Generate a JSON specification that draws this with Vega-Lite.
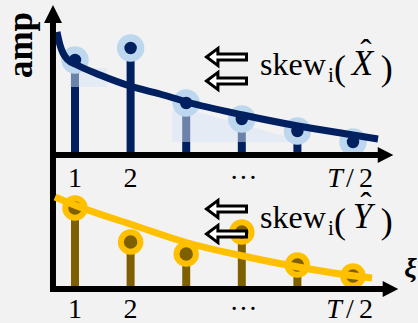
{
  "$schema": "https://vega.github.io/schema/vega-lite/v6.json",
  "width": 418,
  "height": 323,
  "autosize": {"type": "none"},
  "padding": 0,
  "background": "#f2f2f2",
  "config": {"view": {"stroke": null}, "axis": {"disable": true}},
  "datasets": {
    "topStems": [
      {"k": 1, "amp": 0.95}, {"k": 2, "amp": 1.07}, {"k": 3, "amp": 0.52},
      {"k": 4, "amp": 0.36}, {"k": 5, "amp": 0.24}, {"k": 6, "amp": 0.13}
    ],
    "topCurve": [
      {"k": 0.676, "amp": 1.23}, {"k": 0.73, "amp": 1.1}, {"k": 0.784, "amp": 1.02},
      {"k": 0.874, "amp": 0.95}, {"k": 1.036, "amp": 0.9}, {"k": 1.45, "amp": 0.8},
      {"k": 1.989, "amp": 0.69}, {"k": 2.529, "amp": 0.61}, {"k": 3.014, "amp": 0.53},
      {"k": 4.022, "amp": 0.4}, {"k": 5.011, "amp": 0.29}, {"k": 6.0, "amp": 0.2},
      {"k": 6.45, "amp": 0.16}
    ],
    "botStems": [
      {"k": 1, "amp": 0.81}, {"k": 2, "amp": 0.47}, {"k": 3, "amp": 0.35},
      {"k": 4, "amp": 0.57}, {"k": 5, "amp": 0.24}, {"k": 6, "amp": 0.13}
    ],
    "botCurve": [
      {"k": 0.64, "amp": 0.92}, {"k": 1.036, "amp": 0.83}, {"k": 2.043, "amp": 0.64},
      {"k": 3.032, "amp": 0.46}, {"k": 4.022, "amp": 0.33}, {"k": 5.011, "amp": 0.22},
      {"k": 6.036, "amp": 0.13}, {"k": 6.342, "amp": 0.11}
    ],
    "ticks": [
      {"k": 1, "label": "1"}, {"k": 2, "label": "2"}, {"k": 4.03, "label": "···"}
    ]
  },
  "layer": [
    {
      "layer": [
        {
          "data": {"name": "topStems"},
          "mark": {"type": "rule", "color": "#002060", "strokeWidth": 8},
          "encoding": {
            "x": {"field": "k", "type": "quantitative", "scale": {"domain": [-0.349, 7.169], "nice": false, "zero": false}},
            "y": {"field": "amp", "type": "quantitative", "scale": {"domain": [-1.68, 1.55], "nice": false, "zero": false}},
            "y2": {"datum": 0}
          }
        },
        {
          "data": {"values": [{}]},
          "mark": {"type": "rect", "color": "#d7e4f6", "opacity": 0.5},
          "encoding": {
            "x": {"datum": 0.91, "type": "quantitative"}, "x2": {"datum": 1.576},
            "y": {"datum": 0.87, "type": "quantitative"}, "y2": {"datum": 0.68}
          }
        },
        {
          "data": {"values": [{}]},
          "mark": {"type": "point", "shape": "M -1 -0.24 L -0.73 -0.24 L 1 0.24 L -1 0.24 Z", "filled": true, "color": "#d7e4f6", "opacity": 0.5, "size": 17689},
          "encoding": {"x": {"datum": 3.941, "type": "quantitative"}, "y": {"datum": 0.29, "type": "quantitative"}}
        },
        {
          "data": {"name": "topStems"},
          "mark": {"type": "point", "filled": true, "color": "#bdd7ee", "opacity": 1, "size": 755},
          "encoding": {"x": {"field": "k", "type": "quantitative"}, "y": {"field": "amp", "type": "quantitative"}}
        },
        {
          "data": {"name": "topStems"},
          "mark": {"type": "point", "filled": true, "color": "#002060", "opacity": 1, "size": 154},
          "encoding": {"x": {"field": "k", "type": "quantitative"}, "y": {"field": "amp", "type": "quantitative"}}
        },
        {
          "data": {"name": "topCurve"},
          "mark": {"type": "line", "color": "#002060", "strokeWidth": 7, "interpolate": "monotone", "strokeCap": "butt"},
          "encoding": {"x": {"field": "k", "type": "quantitative"}, "y": {"field": "amp", "type": "quantitative"}}
        },
        {
          "data": {"values": [{}]},
          "mark": {"type": "rule", "color": "black", "strokeWidth": 6},
          "encoding": {
            "x": {"datum": 0.604, "type": "quantitative"},
            "y": {"datum": 1.35, "type": "quantitative"}, "y2": {"datum": -1.37}
          }
        },
        {
          "data": {"values": [{}]},
          "mark": {"type": "rule", "color": "black", "strokeWidth": 6},
          "encoding": {
            "x": {"datum": 0.55, "type": "quantitative"}, "x2": {"datum": 6.6},
            "y": {"datum": 0, "type": "quantitative"}
          }
        },
        {
          "data": {"values": [{}]},
          "mark": {"type": "point", "shape": "M 0 -0.75 L 0.75 0.75 L -0.75 0.75 Z", "filled": true, "color": "black", "opacity": 1, "size": 576},
          "encoding": {"x": {"datum": 0.604, "type": "quantitative"}, "y": {"datum": 1.41, "type": "quantitative"}}
        },
        {
          "data": {"values": [{}]},
          "mark": {"type": "point", "shape": "M 0.65 0 L -0.65 -0.67 L -0.65 0.67 Z", "filled": true, "color": "black", "opacity": 1, "size": 576},
          "encoding": {"x": {"datum": 6.585, "type": "quantitative"}, "y": {"datum": 0, "type": "quantitative"}}
        },
        {
          "data": {"values": [{}]},
          "mark": {"type": "text", "text": "amp", "font": "Liberation Serif", "fontSize": 35, "fontWeight": "bold", "angle": 270, "align": "center", "baseline": "alphabetic", "color": "black"},
          "encoding": {"x": {"datum": 0.22, "type": "quantitative"}, "y": {"datum": 1.1, "type": "quantitative"}}
        },
        {
          "data": {"name": "ticks"},
          "mark": {"type": "text", "font": "Liberation Serif", "fontSize": 28, "align": "center", "baseline": "alphabetic", "color": "black"},
          "encoding": {"x": {"field": "k", "type": "quantitative"}, "y": {"datum": -0.32, "type": "quantitative"}, "text": {"field": "label"}}
        },
        {
          "data": {"values": [{}]},
          "mark": {"type": "text", "text": "T", "font": "Liberation Serif", "fontSize": 28, "fontStyle": "italic", "align": "center", "baseline": "alphabetic", "color": "black"},
          "encoding": {"x": {"datum": 5.676, "type": "quantitative"}, "y": {"datum": -0.32, "type": "quantitative"}}
        },
        {
          "data": {"values": [{}]},
          "mark": {"type": "text", "text": "/", "font": "Liberation Serif", "fontSize": 28, "align": "center", "baseline": "alphabetic", "color": "black"},
          "encoding": {"x": {"datum": 5.946, "type": "quantitative"}, "y": {"datum": -0.32, "type": "quantitative"}}
        },
        {
          "data": {"values": [{}]},
          "mark": {"type": "text", "text": "2", "font": "Liberation Serif", "fontSize": 28, "align": "center", "baseline": "alphabetic", "color": "black"},
          "encoding": {"x": {"datum": 6.234, "type": "quantitative"}, "y": {"datum": -0.32, "type": "quantitative"}}
        },
        {
          "data": {"values": [{}]},
          "mark": {"type": "point", "shape": "M -0.93 0 L -0.4 -0.4 L -0.4 -0.14 L 0.93 -0.14 L 0.93 0.14 L -0.4 0.14 L -0.4 0.4 Z", "filled": true, "fill": "white", "stroke": "black", "strokeWidth": 3, "strokeJoin": "miter", "opacity": 1, "size": 1849},
          "encoding": {"x": {"datum": 3.725, "type": "quantitative"}, "y": {"datum": 0.98, "type": "quantitative"}}
        },
        {
          "data": {"values": [{}]},
          "mark": {"type": "point", "shape": "M -0.93 0 L -0.4 -0.4 L -0.4 -0.14 L 0.93 -0.14 L 0.93 0.14 L -0.4 0.14 L -0.4 0.4 Z", "filled": true, "fill": "white", "stroke": "black", "strokeWidth": 3, "strokeJoin": "miter", "opacity": 1, "size": 1849},
          "encoding": {"x": {"datum": 3.725, "type": "quantitative"}, "y": {"datum": 0.74, "type": "quantitative"}}
        },
        {
          "data": {"values": [{}]},
          "mark": {"type": "text", "text": "skew", "font": "Liberation Serif", "fontSize": 32, "align": "left", "baseline": "alphabetic", "color": "black"},
          "encoding": {"x": {"datum": 4.327, "type": "quantitative"}, "y": {"datum": 0.8, "type": "quantitative"}}
        },
        {
          "data": {"values": [{}]},
          "mark": {"type": "text", "text": "i", "font": "Liberation Serif", "fontSize": 21, "align": "left", "baseline": "alphabetic", "color": "black"},
          "encoding": {"x": {"datum": 5.55, "type": "quantitative"}, "y": {"datum": 0.73, "type": "quantitative"}}
        },
        {
          "data": {"values": [{}]},
          "mark": {"type": "text", "text": "(", "font": "Liberation Serif", "fontSize": 36, "align": "left", "baseline": "alphabetic", "color": "black"},
          "encoding": {"x": {"datum": 5.658, "type": "quantitative"}, "y": {"datum": 0.755, "type": "quantitative"}}
        },
        {
          "data": {"values": [{}]},
          "mark": {"type": "text", "text": "X", "font": "Liberation Serif", "fontSize": 35, "fontStyle": "italic", "align": "center", "baseline": "alphabetic", "color": "black"},
          "encoding": {"x": {"datum": 6.17, "type": "quantitative"}, "y": {"datum": 0.8, "type": "quantitative"}}
        },
        {
          "data": {"values": [{}]},
          "mark": {"type": "text", "text": "ˆ", "font": "Liberation Serif", "fontSize": 34, "align": "center", "baseline": "alphabetic", "color": "black"},
          "encoding": {"x": {"datum": 6.23, "type": "quantitative"}, "y": {"datum": 0.92, "type": "quantitative"}}
        },
        {
          "data": {"values": [{}]},
          "mark": {"type": "text", "text": ")", "font": "Liberation Serif", "fontSize": 36, "align": "left", "baseline": "alphabetic", "color": "black"},
          "encoding": {"x": {"datum": 6.5, "type": "quantitative"}, "y": {"datum": 0.755, "type": "quantitative"}}
        }
      ]
    },
    {
      "layer": [
        {
          "data": {"name": "botStems"},
          "mark": {"type": "rule", "color": "#7f6000", "strokeWidth": 8},
          "encoding": {
            "x": {"field": "k", "type": "quantitative"},
            "y": {"field": "amp", "type": "quantitative", "scale": {"domain": [-0.34, 2.89], "nice": false, "zero": false}},
            "y2": {"datum": 0}
          }
        },
        {
          "data": {"name": "botStems"},
          "mark": {"type": "point", "filled": true, "color": "#7f6000", "stroke": "#ffc000", "strokeWidth": 6, "opacity": 1, "size": 380},
          "encoding": {"x": {"field": "k", "type": "quantitative"}, "y": {"field": "amp", "type": "quantitative"}}
        },
        {
          "data": {"name": "botCurve"},
          "mark": {"type": "line", "color": "#ffc000", "strokeWidth": 7, "interpolate": "monotone", "strokeCap": "butt"},
          "encoding": {"x": {"field": "k", "type": "quantitative"}, "y": {"field": "amp", "type": "quantitative"}}
        },
        {
          "data": {"values": [{}]},
          "mark": {"type": "rule", "color": "black", "strokeWidth": 6},
          "encoding": {
            "x": {"datum": 0.55, "type": "quantitative"}, "x2": {"datum": 6.683},
            "y": {"datum": 0, "type": "quantitative"}
          }
        },
        {
          "data": {"values": [{}]},
          "mark": {"type": "point", "shape": "M 0.65 0 L -0.65 -0.67 L -0.65 0.67 Z", "filled": true, "color": "black", "opacity": 1, "size": 576},
          "encoding": {"x": {"datum": 6.674, "type": "quantitative"}, "y": {"datum": 0, "type": "quantitative"}}
        },
        {
          "data": {"name": "ticks"},
          "mark": {"type": "text", "font": "Liberation Serif", "fontSize": 28, "align": "center", "baseline": "alphabetic", "color": "black"},
          "encoding": {"x": {"field": "k", "type": "quantitative"}, "y": {"datum": -0.29, "type": "quantitative"}, "text": {"field": "label"}}
        },
        {
          "data": {"values": [{}]},
          "mark": {"type": "text", "text": "T", "font": "Liberation Serif", "fontSize": 28, "fontStyle": "italic", "align": "center", "baseline": "alphabetic", "color": "black"},
          "encoding": {"x": {"datum": 5.658, "type": "quantitative"}, "y": {"datum": -0.29, "type": "quantitative"}}
        },
        {
          "data": {"values": [{}]},
          "mark": {"type": "text", "text": "/", "font": "Liberation Serif", "fontSize": 28, "align": "center", "baseline": "alphabetic", "color": "black"},
          "encoding": {"x": {"datum": 5.946, "type": "quantitative"}, "y": {"datum": -0.29, "type": "quantitative"}}
        },
        {
          "data": {"values": [{}]},
          "mark": {"type": "text", "text": "2", "font": "Liberation Serif", "fontSize": 28, "align": "center", "baseline": "alphabetic", "color": "black"},
          "encoding": {"x": {"datum": 6.234, "type": "quantitative"}, "y": {"datum": -0.29, "type": "quantitative"}}
        },
        {
          "data": {"values": [{}]},
          "mark": {"type": "text", "text": "ξ", "font": "Liberation Serif", "fontSize": 28, "fontStyle": "italic", "fontWeight": "bold", "align": "right", "baseline": "alphabetic", "color": "black"},
          "encoding": {"x": {"datum": 7.15, "type": "quantitative"}, "y": {"datum": 0.12, "type": "quantitative"}}
        },
        {
          "data": {"values": [{}]},
          "mark": {"type": "point", "shape": "M -0.93 0 L -0.4 -0.4 L -0.4 -0.14 L 0.93 -0.14 L 0.93 0.14 L -0.4 0.14 L -0.4 0.4 Z", "filled": true, "fill": "white", "stroke": "black", "strokeWidth": 3, "strokeJoin": "miter", "opacity": 1, "size": 1849},
          "encoding": {"x": {"datum": 3.725, "type": "quantitative"}, "y": {"datum": 0.8, "type": "quantitative"}}
        },
        {
          "data": {"values": [{}]},
          "mark": {"type": "point", "shape": "M -0.93 0 L -0.4 -0.4 L -0.4 -0.14 L 0.93 -0.14 L 0.93 0.14 L -0.4 0.14 L -0.4 0.4 Z", "filled": true, "fill": "white", "stroke": "black", "strokeWidth": 3, "strokeJoin": "miter", "opacity": 1, "size": 1849},
          "encoding": {"x": {"datum": 3.725, "type": "quantitative"}, "y": {"datum": 0.55, "type": "quantitative"}}
        },
        {
          "data": {"values": [{}]},
          "mark": {"type": "text", "text": "skew", "font": "Liberation Serif", "fontSize": 32, "align": "left", "baseline": "alphabetic", "color": "black"},
          "encoding": {"x": {"datum": 4.327, "type": "quantitative"}, "y": {"datum": 0.61, "type": "quantitative"}}
        },
        {
          "data": {"values": [{}]},
          "mark": {"type": "text", "text": "i", "font": "Liberation Serif", "fontSize": 21, "align": "left", "baseline": "alphabetic", "color": "black"},
          "encoding": {"x": {"datum": 5.55, "type": "quantitative"}, "y": {"datum": 0.54, "type": "quantitative"}}
        },
        {
          "data": {"values": [{}]},
          "mark": {"type": "text", "text": "(", "font": "Liberation Serif", "fontSize": 36, "align": "left", "baseline": "alphabetic", "color": "black"},
          "encoding": {"x": {"datum": 5.658, "type": "quantitative"}, "y": {"datum": 0.565, "type": "quantitative"}}
        },
        {
          "data": {"values": [{}]},
          "mark": {"type": "text", "text": "Y", "font": "Liberation Serif", "fontSize": 35, "fontStyle": "italic", "align": "center", "baseline": "alphabetic", "color": "black"},
          "encoding": {"x": {"datum": 6.17, "type": "quantitative"}, "y": {"datum": 0.61, "type": "quantitative"}}
        },
        {
          "data": {"values": [{}]},
          "mark": {"type": "text", "text": "ˆ", "font": "Liberation Serif", "fontSize": 34, "align": "center", "baseline": "alphabetic", "color": "black"},
          "encoding": {"x": {"datum": 6.23, "type": "quantitative"}, "y": {"datum": 0.73, "type": "quantitative"}}
        },
        {
          "data": {"values": [{}]},
          "mark": {"type": "text", "text": ")", "font": "Liberation Serif", "fontSize": 36, "align": "left", "baseline": "alphabetic", "color": "black"},
          "encoding": {"x": {"datum": 6.5, "type": "quantitative"}, "y": {"datum": 0.565, "type": "quantitative"}}
        }
      ]
    }
  ],
  "resolve": {"scale": {"y": "independent"}}
}
